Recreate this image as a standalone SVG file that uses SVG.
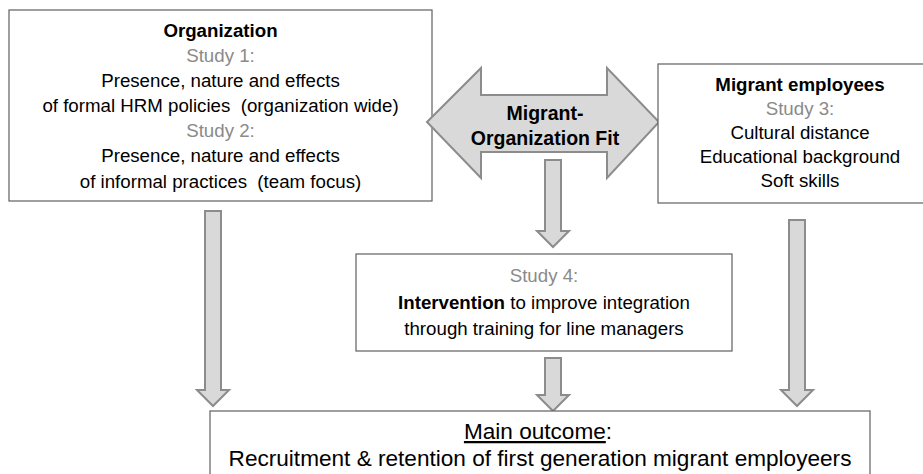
<svg xmlns="http://www.w3.org/2000/svg" width="923" height="474" viewBox="0 0 923 474">
<style>
.box{fill:#ffffff;stroke:#5f5f5f;stroke-width:1.2}
.arr{fill:#d9d9d9;stroke:#8c8c8c;stroke-width:2;stroke-linejoin:miter}
text{font-family:"Liberation Sans",Arial,sans-serif;font-size:18.7px;fill:#000;text-anchor:middle}
.b{font-weight:bold}
.g{fill:#8a8a8a}
.big{font-size:22.6px}
</style>
<rect width="923" height="474" fill="#ffffff"/>
<g id="connectors">
<path class="arr" d="M205,211 H221 V390 H229 L213,406 L197,390 H205 Z"/>
<path class="arr" d="M789,220 H805 V390 H813 L797,406 L781,390 H789 Z"/>
<path class="arr" d="M545,160 H561 V231 H569 L553,247 L537,231 H545 Z"/>
<path class="arr" d="M545,358 H561 V395 H569 L553,411 L537,395 H545 Z"/>
</g>
<g id="organization">
<rect class="box" x="9" y="10" width="423" height="191"/>
<text x="220.5" y="36.5" class="b">Organization</text>
<text x="220.5" y="62" class="g">Study 1:</text>
<text x="220.5" y="87">Presence, nature and effects</text>
<text x="220.5" y="112" xml:space="preserve">of formal HRM policies  (organization wide)</text>
<text x="220.5" y="137" class="g">Study 2:</text>
<text x="220.5" y="162">Presence, nature and effects</text>
<text x="220.5" y="188" xml:space="preserve">of informal practices  (team focus)</text>
</g>
<g id="fit">
<path class="arr" d="M427,122 L481,68 V95 H607 V68 L659,122 L607,178 V152 H481 V178 Z"/>
<text x="545" y="120" class="b" style="font-size:19.5px">Migrant-</text>
<text x="545" y="145" class="b" style="font-size:19.5px">Organization Fit</text>
</g>
<g id="migrant-employees">
<rect class="box" x="658" y="64" width="300" height="139"/>
<text x="800" y="90.5" class="b">Migrant employees</text>
<text x="800" y="114.5" class="g">Study 3:</text>
<text x="800" y="138.5">Cultural distance</text>
<text x="800" y="163">Educational background</text>
<text x="800" y="187">Soft skills</text>
</g>
<g id="study4">
<rect class="box" x="356" y="254" width="376" height="97"/>
<text x="544" y="282" class="g">Study 4:</text>
<text x="544" y="309"><tspan class="b">Intervention</tspan> to improve integration</text>
<text x="544" y="335">through training for line managers</text>
</g>
<g id="main-outcome">
<rect class="box" x="210" y="411" width="660" height="80"/>
<text x="538" y="439" class="big"><tspan text-decoration="underline">Main outcome</tspan>:</text>
<text x="540" y="466" class="big">Recruitment &amp; retention of first generation migrant employeers</text>
</g>
</svg>
